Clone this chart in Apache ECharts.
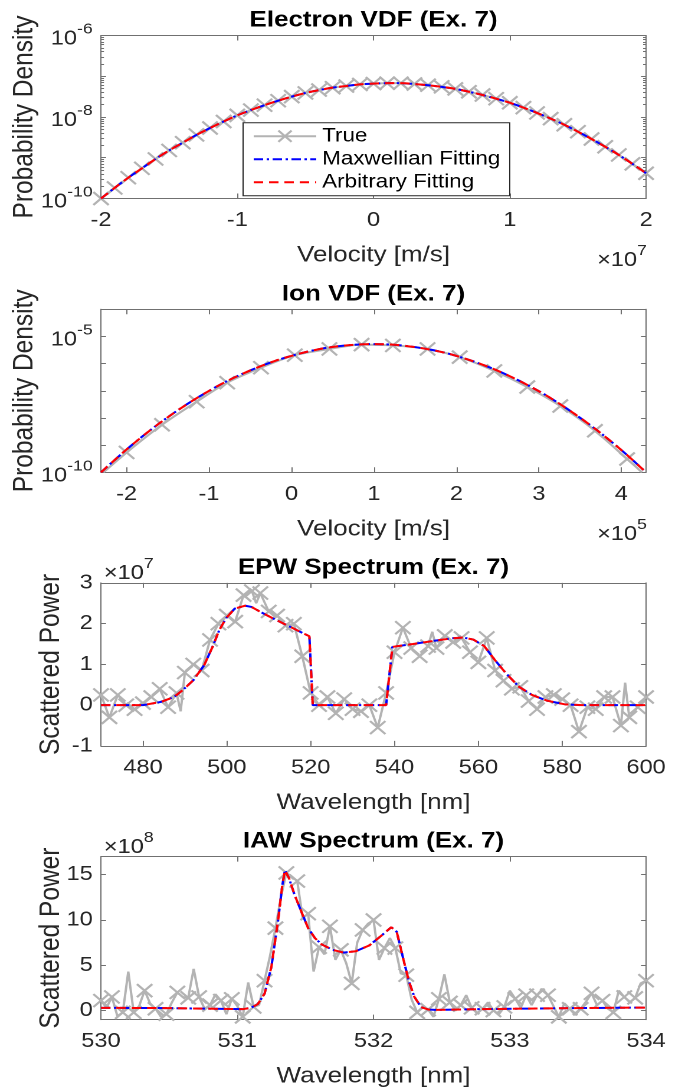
<!DOCTYPE html>
<html><head><meta charset="utf-8">
<script src="https://cdn.jsdelivr.net/npm/echarts@6/dist/echarts.min.js"></script>
<style>html,body{margin:0;padding:0;background:#fff;overflow:hidden;}#c{width:578px;height:1089px;transform:scaleX(1.18);transform-origin:0 0;}</style>
</head><body><div id="c"></div>
<script>
// ---------------- DATA ----------------
// Panel 1: Electron VDF (velocity in units of 1e7 m/s, density as log10)
const electronVelocity = [-2.0,-1.9,-1.8,-1.7,-1.6,-1.5,-1.4,-1.3,-1.2,-1.1,-1.0,-0.9,-0.8,-0.7,-0.6,-0.5,-0.4,-0.3,-0.2,-0.1,0.0,0.1,0.2,0.3,0.4,0.5,0.6,0.7,0.8,0.9,1.0,1.1,1.2,1.3,1.4,1.5,1.6,1.7,1.8,1.9,2.0];
const electronTrueLog10 = [-10.00,-9.74,-9.49,-9.26,-9.03,-8.82,-8.63,-8.44,-8.27,-8.11,-7.96,-7.83,-7.71,-7.60,-7.50,-7.41,-7.34,-7.28,-7.24,-7.20,-7.18,-7.17,-7.17,-7.19,-7.22,-7.26,-7.31,-7.38,-7.46,-7.55,-7.65,-7.77,-7.90,-8.04,-8.19,-8.36,-8.54,-8.73,-8.93,-9.15,-9.38];
const electronMaxwellLog10 = [-10.00,-9.74,-9.49,-9.26,-9.03,-8.82,-8.63,-8.44,-8.27,-8.11,-7.96,-7.83,-7.71,-7.60,-7.50,-7.41,-7.34,-7.28,-7.24,-7.20,-7.18,-7.17,-7.17,-7.19,-7.22,-7.26,-7.31,-7.38,-7.46,-7.55,-7.65,-7.77,-7.90,-8.04,-8.19,-8.36,-8.54,-8.73,-8.93,-9.15,-9.38];
const electronArbitraryLog10 = [-10.00,-9.74,-9.49,-9.26,-9.03,-8.82,-8.63,-8.44,-8.27,-8.11,-7.96,-7.83,-7.71,-7.60,-7.50,-7.41,-7.34,-7.28,-7.24,-7.20,-7.18,-7.17,-7.17,-7.19,-7.22,-7.26,-7.31,-7.38,-7.46,-7.55,-7.65,-7.77,-7.90,-8.04,-8.19,-8.36,-8.54,-8.73,-8.93,-9.15,-9.38];

// Panel 2: Ion VDF (velocity in units of 1e5 m/s, density as log10)
const ionTrueVelocity = [-2.28,-2.00,-1.57,-1.15,-0.78,-0.37,0.04,0.46,0.85,1.23,1.65,2.04,2.46,2.86,3.26,3.68,4.07,4.25];
const ionTrueLog10 = [-10.00,-9.27,-8.25,-7.40,-6.70,-6.15,-5.69,-5.46,-5.30,-5.33,-5.46,-5.76,-6.27,-6.86,-7.56,-8.47,-9.51,-10.00];
const ionFitVelocity = [-2.31,-2.0,-1.7,-1.4,-1.1,-0.8,-0.5,-0.2,0.1,0.4,0.7,1.0,1.3,1.6,1.9,2.2,2.5,2.8,3.1,3.4,3.7,4.0,4.30];
const ionMaxwellLog10 = [-10.00,-9.16,-8.42,-7.76,-7.18,-6.67,-6.25,-5.90,-5.63,-5.43,-5.32,-5.28,-5.32,-5.44,-5.63,-5.91,-6.26,-6.69,-7.19,-7.78,-8.44,-9.18,-10.00];
const ionArbitraryLog10 = [-10.00,-9.16,-8.42,-7.76,-7.18,-6.67,-6.25,-5.90,-5.63,-5.43,-5.32,-5.28,-5.32,-5.44,-5.63,-5.91,-6.26,-6.69,-7.19,-7.78,-8.44,-9.18,-10.00];

// Panel 3: EPW spectrum (wavelength nm, power in units of 1e7)
const epwWavelength = [470,472,474,476,478,480,482,484,486,488,489,490,492,494,496,498,500,502,504,506,507,508,510,512,514,516,518,520,522,524,526,528,530,532,534,536,538,540,542,544,546,548,549,550,552,554,556,558,560,562,564,566,568,570,572,574,576,578,580,582,584,586,588,590,592,594,595,596,598,600];
const epwTrue = [0.25,-0.30,0.25,0.00,-0.10,0.05,0.20,0.40,-0.05,0.30,-0.15,0.80,1.00,0.85,1.60,2.00,2.20,2.05,2.70,2.80,2.50,2.75,2.30,2.20,1.95,2.00,1.20,0.30,0.00,0.20,-0.20,0.15,-0.10,-0.15,0.00,-0.55,0.30,1.30,1.90,1.40,1.20,1.45,1.80,1.40,1.70,1.55,1.65,1.30,1.05,1.65,0.85,0.60,0.40,0.45,0.10,-0.10,0.20,0.25,0.15,0.00,-0.65,-0.05,-0.10,0.20,0.20,-0.50,0.55,-0.30,-0.05,0.20];
const epwFitWavelength = [470,480,484.3,487.4,489.5,492,494.6,496.6,498.2,499.8,501.9,504.4,505.9,508,511,514.4,517.5,519.7,520.5,538,539.5,544.4,549.5,553.7,556.3,558.8,561.4,564,566.6,569.7,572.8,576.4,580.6,584.7,600];
const epwMaxwellFit = [0,0,0.08,0.20,0.37,0.61,0.98,1.43,1.84,2.13,2.37,2.44,2.41,2.29,2.13,1.96,1.80,1.69,0,0,1.43,1.50,1.58,1.64,1.66,1.61,1.45,1.10,0.78,0.45,0.25,0.11,0.02,0,0];
const epwArbitraryFit = [0,0,0.08,0.20,0.37,0.61,0.98,1.43,1.84,2.13,2.37,2.44,2.41,2.29,2.13,1.96,1.80,1.69,0,0,1.43,1.50,1.58,1.64,1.66,1.61,1.45,1.10,0.78,0.45,0.25,0.11,0.02,0,0];

// Panel 4: IAW spectrum (wavelength nm, power in units of 1e8)
const iawWavelength = [530.00,530.04,530.08,530.12,530.16,530.20,530.24,530.28,530.32,530.36,
530.40,530.44,530.48,530.52,530.56,530.60,530.64,530.68,530.72,530.76,
530.80,530.84,530.88,530.92,530.96,531.00,531.04,531.08,531.12,531.16,
531.20,531.24,531.28,531.32,531.36,531.40,531.44,531.48,531.52,531.56,
531.60,531.64,531.68,531.72,531.76,531.80,531.84,531.88,531.92,531.96,
532.00,532.04,532.08,532.12,532.16,532.20,532.24,532.28,532.32,532.36,
532.40,532.44,532.48,532.52,532.56,532.60,532.64,532.68,532.72,532.76,
532.80,532.84,532.88,532.92,532.96,533.00,533.04,533.08,533.12,533.16,
533.20,533.24,533.28,533.32,533.36,533.40,533.44,533.48,533.52,533.56,
533.60,533.64,533.68,533.72,533.76,533.80,533.84,533.88,533.92,533.96,534.00];
const iawTrue = [1.1,0.3,1.5,-0.6,-0.2,4.3,-0.2,0.5,2.2,0.8,
0.2,-0.7,-0.4,0.9,2.0,1.5,1.4,4.6,1.5,0.2,
0.6,1.8,1.1,-0.4,1.3,0.5,-0.7,3.1,0.4,0.6,
3.3,6.0,9.1,12.5,15.2,14.8,14.3,10.2,10.7,4.3,
7.0,6.2,9.3,5.6,6.7,5.2,3.0,7.5,8.9,9.6,
10.0,5.6,6.9,8.0,6.9,4.1,3.9,1.2,-0.2,0.4,
0.1,-0.7,1.3,4.0,0.9,0.0,0.6,1.7,0.3,-0.3,
0.2,0.9,0.0,-0.4,0.4,2.2,1.3,0.3,1.7,0.6,
1.7,2.4,1.7,0.5,-0.7,0.8,0.2,-0.5,0.2,1.0,
1.9,0.6,1.1,0.2,-0.2,2.2,1.5,0.9,1.4,3.0,3.3];
const iawFitWavelength = [530.00,530.50,530.90,531.04,531.10,531.15,531.20,531.25,531.30,531.33,531.35,531.38,531.42,531.46,531.52,531.57,531.62,531.70,531.78,531.87,531.97,532.06,532.13,532.17,532.22,532.26,532.30,532.35,532.40,532.45,532.76,533.40,534.00];
const iawMaxwellFit = [0.30,0.27,0.18,0.15,0.30,0.70,1.85,4.8,10.0,13.8,15.5,14.6,12.8,11.3,9.1,8.0,7.3,6.7,6.4,6.55,7.2,8.3,9.2,8.7,5.6,3.2,1.5,0.37,0.12,0.07,0.15,0.26,0.33];
const iawArbitraryFit = [0.30,0.27,0.18,0.15,0.30,0.70,1.85,4.8,10.0,13.8,15.5,14.6,12.8,11.3,9.1,8.0,7.3,6.7,6.4,6.55,7.2,8.3,9.2,8.7,5.6,3.2,1.5,0.37,0.12,0.07,0.15,0.26,0.33];

// Tick values / labels
const p2XTicks = [-2,-1,0,1,2,3,4];
const p3XTicks = [480,500,520,540,560,580,600];
const p3YTicks = [-1,0,1,2,3];
const p4XTicks = [530,531,532,533,534];
const p4YTicks = [0,5,10,15];

// ---------------- STYLE / LAYOUT ----------------
// The chart is drawn 578 px wide and stretched horizontally by 1.18 (CSS) to 682 px,
// matching the horizontally stretched look of the reference figure.
const FONT = '"Liberation Sans", Arial, Helvetica, sans-serif';
const TXT = '#262626', AX = '#707070';
const GRAY = '#b3b3b3', BLUE = '#0000ff', RED = '#ff0000';
const XSYM = 'path://M0,0L10,10M10,0L0,10';
const GL = 85.6, GW = 461.9;
const grids = [35.5, 309.3, 582.9, 856.6].map(t => ({left:GL, width:GW, top:t, height:163, outerBoundsMode:'none', containLabel:false}));
const tickV = {show:true, inside:true, length:5, lineStyle:{color:AX, width:1}};
const tickH = {show:true, inside:true, length:4.3, lineStyle:{color:AX, width:1}};
const lineAx = {show:true, onZero:false, lineStyle:{color:AX, width:1}};
const labelBase = {color:TXT, fontSize:20, fontFamily:FONT};
const xNameStyle = {color:TXT, fontSize:22, fontFamily:FONT};
const yNameStyle = {color:TXT, fontSize:24.5, fontFamily:FONT};
const supRich = {
  b:{fontSize:20, fontFamily:FONT, color:TXT, verticalAlign:'bottom'},
  s:{fontSize:15, fontFamily:FONT, color:TXT, padding:[0,0,12,0]}
};

const xAxes = [], yAxes = [];
function addX(gi, o) {
  const main = Object.assign({type:'value', gridIndex:gi, position:'bottom', axisLine:lineAx, splitLine:{show:false},
    nameLocation:'middle', nameGap:46, nameMoveOverlap:false, nameTextStyle:xNameStyle}, o);
  main.axisTick = Object.assign({}, tickV, o.axisTick || {});
  main.axisLabel = Object.assign({}, labelBase, {margin:12}, o.axisLabel || {});
  xAxes.push(main);
  xAxes.push({type:o.type || 'value', gridIndex:gi, position:'top', min:o.min, max:o.max, interval:o.interval,
    axisLine:lineAx, splitLine:{show:false}, axisLabel:{show:false}, axisTick:Object.assign({}, tickV, o.axisTick || {})});
  return xAxes.length - 2;
}
function addY(gi, o) {
  const main = Object.assign({type:'value', gridIndex:gi, position:'left', axisLine:lineAx, splitLine:{show:false},
    nameLocation:'middle', nameRotate:90, nameMoveOverlap:false, nameTextStyle:yNameStyle}, o);
  main.axisTick = Object.assign({}, tickH, o.axisTick || {});
  main.axisLabel = Object.assign({}, labelBase, {margin:7}, o.axisLabel || {});
  yAxes.push(main);
  yAxes.push({type:o.type || 'value', gridIndex:gi, position:'right', min:o.min, max:o.max, interval:o.interval, splitNumber:o.splitNumber, logBase:o.logBase,
    axisLine:lineAx, splitLine:{show:false}, axisLabel:{show:false}, axisTick:Object.assign({}, tickH, o.axisTick || {})});
  return yAxes.length - 2;
}

// Panel 1 axes
const x1 = addX(0, {min:-2, max:2, interval:1, name:'Velocity [m/s]'});
const y1 = addY(0, {type:'log', logBase:10, min:1e-10, max:1e-6, splitNumber:4, name:'Probability Density', nameGap:52.5,
  axisLabel:{formatter:v => { const e = Math.round(Math.log10(v)); return (e % 2 === 0) ? '{b|10}{s|' + e + '}' : ''; }, rich:supRich}});
// minor log ticks for panel 1 (decoration axes in exponent space)
const minorVals = [];
for (let d = -10; d < -6; d++) for (let k = 2; k <= 9; k++) minorVals.push(d + Math.log10(k));
['left','right'].forEach(pos => yAxes.push({type:'value', gridIndex:0, position:pos, min:-10, max:-6,
  axisLine:{show:false, onZero:false}, splitLine:{show:false}, axisLabel:{show:false},
  axisTick:{show:true, inside:true, length:2.5, customValues:minorVals, lineStyle:{color:AX}}}));

// Panel 2 axes
const x2 = addX(1, {min:-2.31, max:4.30, name:'Velocity [m/s]',
  axisTick:{customValues:p2XTicks}, axisLabel:{customValues:p2XTicks}});
const y2 = addY(1, {type:'log', logBase:10, min:1e-10, max:1e-4, splitNumber:6, name:'Probability Density', nameGap:52.5,
  axisLabel:{formatter:v => { const e = Math.round(Math.log10(v)); return (e === -10 || e === -5) ? '{b|10}{s|' + e + '}' : ''; }, rich:supRich}});

// Panel 3 axes
const x3 = addX(2, {min:470, max:600, name:'Wavelength [nm]',
  axisTick:{customValues:p3XTicks}, axisLabel:{customValues:p3XTicks}});
const y3 = addY(2, {min:-1, max:3, interval:1, name:'Scattered Power', nameGap:30,
  axisTick:{customValues:p3YTicks}, axisLabel:{customValues:p3YTicks}});

// Panel 4 axes
const x4 = addX(3, {min:530, max:534, interval:1, name:'Wavelength [nm]',
  axisTick:{customValues:p4XTicks}, axisLabel:{customValues:p4XTicks}});
const y4 = addY(3, {min:-1, max:17, name:'Scattered Power', nameGap:30,
  axisTick:{customValues:p4YTicks}, axisLabel:{customValues:p4YTicks}});

// ---------------- SERIES ----------------
function pairs(xs, ys, tf, markerFn) {
  return xs.map((x, i) => {
    const item = {value:[x, tf ? tf(ys[i]) : ys[i]]};
    if (markerFn && !markerFn(x, i)) item.symbol = 'none';
    return item;
  });
}
const pow10 = v => Math.pow(10, v);
function trueS(xi, yi, data) {
  return {type:'line', name:'True', xAxisIndex:xi, yAxisIndex:yi, data, symbol:XSYM, symbolSize:13,
    showAllSymbol:true, lineStyle:{color:GRAY, width:2}, itemStyle:{color:GRAY, borderColor:GRAY, borderWidth:2},
    emphasis:{disabled:true}, z:2};
}
function maxS(xi, yi, data, smooth) {
  return {type:'line', name:'Maxwellian Fitting', xAxisIndex:xi, yAxisIndex:yi, data, symbol:'none', smooth:smooth || false,
    lineStyle:{color:BLUE, width:2, type:[8,3,2,3]}, itemStyle:{color:BLUE}, emphasis:{disabled:true}, z:3};
}
function arbS(xi, yi, data, smooth) {
  return {type:'line', name:'Arbitrary Fitting', xAxisIndex:xi, yAxisIndex:yi, data, symbol:'none', smooth:smooth || false,
    lineStyle:{color:RED, width:2, type:[8,5]}, itemStyle:{color:RED}, emphasis:{disabled:true}, z:4};
}
const series = [
  trueS(x1, y1, pairs(electronVelocity, electronTrueLog10, pow10)),
  maxS(x1, y1, pairs(electronVelocity, electronMaxwellLog10, pow10), 0.3),
  arbS(x1, y1, pairs(electronVelocity, electronArbitraryLog10, pow10), 0.3),
  trueS(x2, y2, pairs(ionTrueVelocity, ionTrueLog10, pow10, (x, i) => i > 0 && i < ionTrueVelocity.length - 1)),
  maxS(x2, y2, pairs(ionFitVelocity, ionMaxwellLog10, pow10), 0.3),
  arbS(x2, y2, pairs(ionFitVelocity, ionArbitraryLog10, pow10), 0.3),
  trueS(x3, y3, pairs(epwWavelength, epwTrue, null, (x) => x % 2 === 0)),
  maxS(x3, y3, pairs(epwFitWavelength, epwMaxwellFit)),
  arbS(x3, y3, pairs(epwFitWavelength, epwArbitraryFit)),
  trueS(x4, y4, pairs(iawWavelength, iawTrue, null, (x, i) => i % 2 === 0)),
  maxS(x4, y4, pairs(iawFitWavelength, iawMaxwellFit)),
  arbS(x4, y4, pairs(iawFitWavelength, iawArbitraryFit))
];
series[3].smooth = 0.3;

// ---------------- TEXT ----------------
const titles = ['Electron VDF (Ex. 7)', 'Ion VDF (Ex. 7)', 'EPW Spectrum (Ex. 7)', 'IAW Spectrum (Ex. 7)'];
const title = titles.map((t, i) => ({text:t, left:GL + GW / 2, top:grids[i].top - 26, textAlign:'center', padding:0,
  textStyle:{fontSize:22, fontWeight:'bold', color:'#000', fontFamily:FONT}}));
function expText(x, y, e) {
  return {type:'text', x, y, silent:true, style:{text:'{a|×10}{s|' + e + '}', verticalAlign:'middle', align:'left',
    rich:{a:{fontSize:20, fontFamily:FONT, fill:TXT, verticalAlign:'bottom'}, s:{fontSize:15, fontFamily:FONT, fill:TXT, padding:[0,0,12,0]}}}};
}
const graphic = [
  expText(506, 257, 7),
  expText(506, 531, 5),
  expText(88, 570, 7),
  expText(88, 844, 8)
];

const chart = echarts.init(document.getElementById('c'), null, {devicePixelRatio:2});
chart.setOption({
  animation:false,
  backgroundColor:'#fff',
  title, graphic,
  grid: grids,
  xAxis: xAxes, yAxis: yAxes,
  legend: {orient:'vertical', left:206, top:122.7, selectedMode:false, itemWidth:53, itemHeight:14, itemGap:4,
    padding:[4,8,4,8], borderColor:'#262626', borderWidth:1, backgroundColor:'#fff',
    textStyle:{fontSize:19, color:'#000', fontFamily:FONT},
    data:[{name:'True'}, {name:'Maxwellian Fitting', itemStyle:{opacity:0}}, {name:'Arbitrary Fitting', itemStyle:{opacity:0}}]},
  series
});
</script></body></html>
